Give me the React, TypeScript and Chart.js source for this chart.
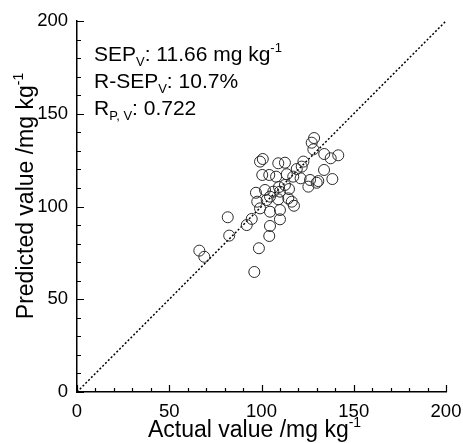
import React, { useEffect, useRef } from "react";
import { Chart, registerables } from "chart.js";

Chart.register(...registerables);

const actualValues = [
  128.5, 127.2, 128.1, 134.0, 141.6, 137.5, 100.7, 99.2, 109.1, 112.7,
  122.7, 121.8, 133.9, 119.1, 100.4, 104.2, 107.9, 113.7, 117.2, 121.2,
  126.3, 130.8, 138.4, 129.9, 125.4, 112.7, 109.5, 114.9, 97.0, 101.9,
  106.4, 110.0, 97.7, 102.8, 104.6, 109.1, 114.5, 116.4, 117.6, 99.2,
  104.6, 110.0, 110.0, 94.7, 92.0, 104.6, 104.2, 81.7, 82.5, 98.6,
  66.3, 69.0, 96.1,
];
const predictedValues = [
  136.9, 134.4, 130.8, 128.3, 127.6, 126.0, 125.6, 124.2, 123.3, 123.6,
  124.2, 121.5, 119.7, 120.2, 117.0, 117.0, 116.1, 117.4, 116.1, 115.2,
  114.3, 113.7, 114.8, 112.8, 110.7, 111.6, 110.5, 109.4, 107.4, 108.9,
  108.0, 108.0, 102.6, 103.5, 105.3, 103.9, 104.4, 102.6, 100.4, 99.0,
  97.2, 98.1, 93.1, 93.3, 90.0, 89.5, 84.1, 94.2, 84.3, 77.5,
  76.2, 72.9, 64.7,
];
const axisMin = 0;
const axisMax = 200;
const majorStep = 50;
const minorStep = 10;
const identityLine = [axisMin, axisMax];

type Piece = { t: string; sub?: boolean; sup?: boolean };
const xTitle: Piece[] = [{ t: "Actual value /mg kg" }, { t: "-1", sup: true }];
const yTitle: Piece[] = [{ t: "Predicted value /mg kg" }, { t: "-1", sup: true }];
const statLines: Piece[][] = [
  [{ t: "SEP" }, { t: "V", sub: true }, { t: ": 11.66 mg kg" }, { t: "-1", sup: true }],
  [{ t: "R-SEP" }, { t: "V", sub: true }, { t: ": 10.7%" }],
  [{ t: "R" }, { t: "P, V", sub: true }, { t: ": 0.722" }],
];

const FONT = "'Liberation Sans', Arial, sans-serif";

function richWidth(ctx: CanvasRenderingContext2D, pieces: Piece[], size: number) {
  let w = 0;
  for (const p of pieces) {
    const s = p.sub || p.sup ? Math.round(size * 0.6) : size;
    ctx.font = `${s}px ${FONT}`;
    w += ctx.measureText(p.t).width;
  }
  return w;
}

function drawRich(ctx: CanvasRenderingContext2D, pieces: Piece[], x: number, y: number, size: number) {
  let cx = x;
  ctx.textBaseline = "alphabetic";
  ctx.textAlign = "left";
  for (const p of pieces) {
    const small = p.sub || p.sup;
    const s = small ? Math.round(size * 0.6) : size;
    ctx.font = `${s}px ${FONT}`;
    let dy = 0;
    if (p.sub) dy = size * 0.25;
    if (p.sup) dy = -size * 0.42;
    ctx.fillText(p.t, cx, y + dy);
    cx += ctx.measureText(p.t).width;
  }
}

const decorPlugin = {
  id: "decor",
  afterDraw(chart: any) {
    const ctx: CanvasRenderingContext2D = chart.ctx;
    const xs = chart.scales.x;
    const ys = chart.scales.y;
    const area = chart.chartArea;
    ctx.save();
    ctx.strokeStyle = "#000";
    ctx.lineWidth = 1.2;
    ctx.beginPath();
    for (let v = axisMin; v <= axisMax; v += minorStep) {
      const len = v % majorStep === 0 ? 7 : 4;
      const px = Math.round(xs.getPixelForValue(v)) + 0.5;
      ctx.moveTo(px, area.bottom);
      ctx.lineTo(px, area.bottom - len);
      const py = Math.round(ys.getPixelForValue(v)) + 0.5;
      ctx.moveTo(area.left, py);
      ctx.lineTo(area.left + len, py);
    }
    ctx.stroke();

    ctx.fillStyle = "#000";
    drawRich(ctx, xTitle, 148, 437, 23);
    const yw = richWidth(ctx, yTitle, 23);
    ctx.save();
    ctx.translate(33, 196);
    ctx.rotate(-Math.PI / 2);
    drawRich(ctx, yTitle, -yw / 2, 0, 23);
    ctx.restore();
    statLines.forEach((line, i) => {
      drawRich(ctx, line, 94, 61 + i * 27, 21);
    });
    ctx.restore();
  },
};

export default function App() {
  const ref = useRef<HTMLCanvasElement>(null);
  useEffect(() => {
    if (!ref.current) return;
    const chart = new Chart(ref.current, {
      type: "scatter",
      data: {
        datasets: [
          {
            label: "samples",
            data: actualValues.map((x, i) => ({ x, y: predictedValues[i] })),
            pointRadius: 5.5,
            pointBorderWidth: 1,
            pointBorderColor: "#2a2a2a",
            pointBackgroundColor: "rgba(255,255,255,0)",
            showLine: false,
          },
          {
            label: "1:1",
            data: identityLine.map((v) => ({ x: v, y: v })),
            showLine: true,
            pointRadius: 0,
            borderColor: "#000",
            borderWidth: 1.5,
            borderDash: [2, 2],
            fill: false,
          },
        ],
      },
      options: {
        responsive: false,
        animation: false,
        layout: { padding: { left: 0, top: 21, right: 17, bottom: 0 } },
        plugins: {
          legend: { display: false },
          tooltip: { enabled: false },
        },
        scales: {
          x: {
            type: "linear",
            min: axisMin,
            max: axisMax,
            ticks: {
              stepSize: majorStep,
              color: "#000",
              font: { family: FONT, size: 18.5 },
              padding: 1,
              maxRotation: 0,
            },
            grid: { display: false },
            border: { display: true, color: "#000", width: 1.5 },
            afterFit: (s: any) => {
              s.height = 51;
            },
          },
          y: {
            type: "linear",
            min: axisMin,
            max: axisMax,
            ticks: {
              stepSize: majorStep,
              color: "#000",
              font: { family: FONT, size: 18.5 },
              padding: 1,
            },
            grid: { display: false },
            border: { display: true, color: "#000", width: 1.5 },
            afterFit: (s: any) => {
              s.width = 77;
            },
          },
        },
      },
      plugins: [decorPlugin],
    });
    return () => chart.destroy();
  }, []);
  return (
    <div style={{ position: "absolute", left: 0, top: 0, width: 463, height: 443, background: "#fff" }}>
      <canvas ref={ref} width={463} height={443} />
    </div>
  );
}
